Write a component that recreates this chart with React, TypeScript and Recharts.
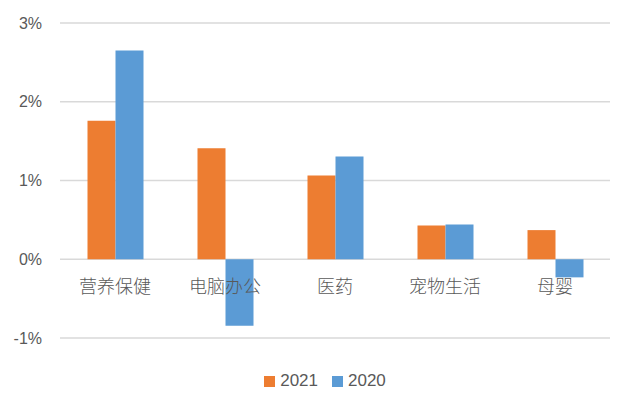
import React from 'react';
import { BarChart, Bar, XAxis, YAxis, CartesianGrid, Legend } from 'recharts';

const categories = ['营养保健', '电脑办公', '医药', '宠物生活', '母婴'];
const series2021 = [1.76, 1.41, 1.065, 0.43, 0.37];
const series2020 = [2.65, -0.845, 1.305, 0.44, -0.23];
const yTicks = [-1, 0, 1, 2, 3];
const seriesNames = ['2021', '2020'];
const seriesColors = ['#ED7D31', '#5B9BD5'];

const data = categories.map((c, i) => ({ name: c, y2021: series2021[i], y2020: series2020[i] }));

const W = 632;
const H = 409;
const M = { top: 23, right: 22, left: 0, bottom: 16 };
const LEGEND_H = 24;
const XAXIS_H = 31;
const PLOT_H = H - M.top - M.bottom - LEGEND_H - XAXIS_H;
const zeroFromBottom = PLOT_H * (0 - yTicks[0]) / (yTicks[yTicks.length - 1] - yTicks[0]);

const XTick = (props: any) => {
  const { x, y, payload } = props;
  return (
    <text x={x} y={y - zeroFromBottom + 18} textAnchor="middle" dominantBaseline="central"
      fill="#595959" fontSize={18} fontFamily="'Noto Sans CJK SC', sans-serif" fontWeight={300}>
      {payload.value}
    </text>
  );
};

const YTick = (props: any) => {
  const { y, payload } = props;
  return (
    <text x={42} y={y} textAnchor="end" dominantBaseline="central"
      fill="#595959" fontSize={16} fontFamily="'Liberation Sans', Arial, sans-serif">
      {payload.value + '%'}
    </text>
  );
};

const LegendContent = () => (
  <div style={{ display: 'flex', justifyContent: 'center', alignItems: 'center', paddingLeft: 40,
    fontFamily: "'Liberation Sans', Arial, sans-serif", fontSize: 17, color: '#595959', height: LEGEND_H }}>
    {seriesNames.map((n, i) => (
      <div key={n} style={{ display: 'flex', alignItems: 'center', marginRight: i === 0 ? 14 : 0 }}>
        <span style={{ display: 'inline-block', width: 11, height: 11, background: seriesColors[i], marginRight: 5 }} />
        <span>{n}</span>
      </div>
    ))}
  </div>
);

export default function App() {
  return (
    <div style={{ position: 'absolute', left: 0, top: 0, background: '#fff' }}>
      <BarChart width={W} height={H} data={data} margin={M} barCategoryGap="25%" barGap={0}>
        <CartesianGrid vertical={false} stroke="#D9D9D9" strokeWidth={1.5} />
        <XAxis dataKey="name" axisLine={false} tickLine={false} height={XAXIS_H} tick={<XTick />} interval={0} />
        <YAxis domain={[-1, 3]} ticks={yTicks} width={60} axisLine={false} tickLine={false} tick={<YTick />} />
        <Legend verticalAlign="bottom" height={LEGEND_H} content={<LegendContent />} />
        <Bar dataKey="y2021" name={seriesNames[0]} fill={seriesColors[0]} isAnimationActive={false} />
        <Bar dataKey="y2020" name={seriesNames[1]} fill={seriesColors[1]} isAnimationActive={false} />
      </BarChart>
    </div>
  );
}
